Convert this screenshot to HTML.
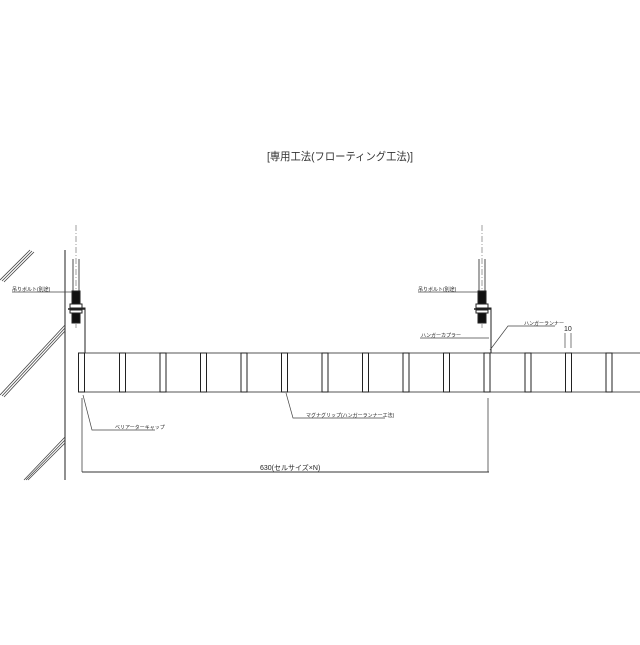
<!DOCTYPE html>
<html><head><meta charset="utf-8"><style>
body{margin:0;background:#fff}
svg text{font-family:"Liberation Sans","Noto Sans CJK JP",sans-serif}
</style></head><body>
<svg width="640" height="640" viewBox="0 0 640 640" xmlns="http://www.w3.org/2000/svg">
<rect width="640" height="640" fill="#fff"/>
<text x="340" y="160" font-size="11" text-anchor="middle" fill="#333" textLength="146" lengthAdjust="spacingAndGlyphs">[専用工法(フローティング工法)]</text>
<!-- wall -->
<line x1="65" y1="250" x2="65" y2="480" stroke="#222" stroke-width="1"/>
<g stroke="#444" stroke-width="0.8">
<line x1="0" y1="280" x2="30" y2="250"/><line x1="2" y1="281" x2="32" y2="251"/><line x1="4" y1="282" x2="34" y2="252"/>
<line x1="0" y1="395" x2="65" y2="325"/><line x1="2" y1="396" x2="65" y2="328"/><line x1="4" y1="397" x2="65" y2="331"/>
<line x1="24" y1="480" x2="65" y2="437"/><line x1="26" y1="480" x2="65" y2="440"/><line x1="28" y1="480" x2="65" y2="443"/>
</g>
<!-- beam -->
<line x1="78" y1="353" x2="640" y2="353" stroke="#555" stroke-width="1"/>
<line x1="78" y1="392" x2="640" y2="392" stroke="#555" stroke-width="1"/>
<g fill="none" stroke="#222" stroke-width="1">
<rect x="78.5" y="353" width="6" height="39"/>
<rect x="119.5" y="353" width="6" height="39"/>
<rect x="160" y="353" width="6" height="39"/>
<rect x="200.5" y="353" width="6" height="39"/>
<rect x="241" y="353" width="6" height="39"/>
<rect x="281.5" y="353" width="6" height="39"/>
<rect x="322" y="353" width="6" height="39"/>
<rect x="362.5" y="353" width="6" height="39"/>
<rect x="403" y="353" width="6" height="39"/>
<rect x="443.5" y="353" width="6" height="39"/>
<rect x="484" y="353" width="6" height="39"/>
<rect x="525" y="353" width="6" height="39"/>
<rect x="565.5" y="353" width="6" height="39"/>
<rect x="606" y="353" width="6" height="39"/>
</g>
<!-- hangers -->
<g id="h" stroke="#222" fill="none">
<line x1="76" y1="225" x2="76" y2="328" stroke="#888" stroke-dasharray="6,2,1,2" stroke-width="0.8"/>
<line x1="73" y1="259" x2="73" y2="292" stroke-width="0.8"/>
<line x1="79" y1="259" x2="79" y2="292" stroke-width="0.8"/>
<rect x="72" y="291" width="8" height="13" fill="#111"/>
<rect x="70" y="304" width="12" height="4" fill="#fff"/>
<line x1="68" y1="309" x2="85" y2="309" stroke-width="1.4"/>
<rect x="70" y="310" width="12" height="3" fill="#fff"/>
<rect x="72" y="313" width="8" height="10" fill="#111"/>
<polyline points="80,308 85,308 85,353" stroke-width="1"/>
</g>
<use href="#h" transform="translate(406,0)"/>
<!-- labels -->
<g stroke="#444" stroke-width="0.7" fill="none">
<line x1="12" y1="292" x2="72" y2="292"/>
<line x1="418" y1="292" x2="478" y2="292"/>
<line x1="420" y1="338" x2="489" y2="338"/>
<polyline points="490,350 508,326 555,326"/>
<polyline points="83,395 92,430 155,430"/>
<polyline points="286,393 293,418 385,418"/>
<line x1="565" y1="333" x2="565" y2="348"/><line x1="571" y1="333" x2="571" y2="348"/>
</g>
<g font-size="5" fill="#222">
<text x="12" y="291">吊りボルト(別途)</text>
<text x="418" y="291">吊りボルト(別途)</text>
<text x="421" y="337">ハンガーカプラー</text>
<text x="524" y="325">ハンガーランナー</text>
<text x="115" y="429">ベリアーターキャップ</text>
<text x="306" y="417">マグナグリップ(ハンガーランナー工法)</text>
</g>
<text x="564" y="331" font-size="7" fill="#222">10</text>
<!-- dimension -->
<line x1="82" y1="398" x2="82" y2="472" stroke="#444" stroke-width="0.8"/>
<line x1="488" y1="398" x2="488" y2="472" stroke="#444" stroke-width="0.8"/>
<line x1="82" y1="472" x2="489" y2="472" stroke="#333" stroke-width="1"/>
<text x="260" y="470" font-size="7" fill="#222">630(セルサイズ×N)</text>
</svg>
</body></html>
